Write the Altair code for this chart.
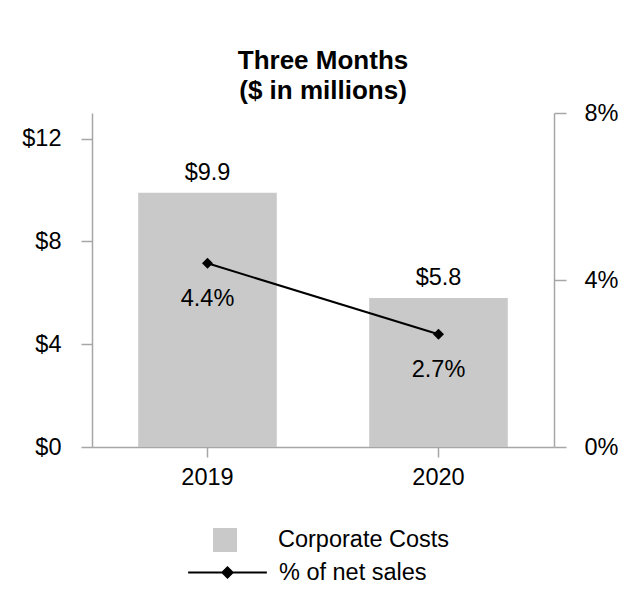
import altair as alt
import pandas as pd

years = ["2019", "2020"]
corporate_costs = [9.9, 5.8]
pct_net_sales = [4.4, 2.7]
cost_ticks = [0, 4, 8, 12]
pct_ticks = [0, 4, 8]
bar_series = ["Corporate Costs", "Corporate Costs"]
line_series = ["% of net sales", "% of net sales"]

df = pd.DataFrame({
    "year": years,
    "cost": corporate_costs,
    "pct": pct_net_sales,
    "bar_series": bar_series,
    "line_series": line_series,
})

FONT = "Liberation Sans"
AXC = "#a6a6a6"
BAR = "#c9c9c9"
FS = 23.5

x = alt.X(
    "year:N", title=None,
    scale=alt.Scale(paddingInner=0.4, paddingOuter=0.2),
    axis=alt.Axis(labelAngle=0, labelFontSize=FS, labelColor="black", labelFont=FONT,
                  domainColor=AXC, tickColor=AXC, tickSize=10, labelPadding=8,
                  domainWidth=1.5, tickWidth=1.5),
)

y_cost = alt.Y(
    "cost:Q", title=None,
    scale=alt.Scale(domain=[0, 13], nice=False, zero=True),
    axis=alt.Axis(orient="left", values=cost_ticks, labelExpr="'$' + datum.value",
                  grid=False, labelFontSize=FS, labelColor="black", labelFont=FONT,
                  domainColor=AXC, tickColor=AXC, tickSize=11, labelPadding=20,
                  domainWidth=1.5, tickWidth=1.5),
)

y_pct = alt.Y(
    "pct:Q", title=None,
    scale=alt.Scale(domain=[0, 8], nice=False, zero=True),
    axis=alt.Axis(orient="right", values=pct_ticks, labelExpr="datum.value + '%'",
                  grid=False, labelFontSize=FS, labelColor="black", labelFont=FONT,
                  domainColor=AXC, tickColor=AXC, tickSize=12, labelPadding=18,
                  domainWidth=1.5, tickWidth=1.5),
)

base = alt.Chart(df).transform_calculate(
    cost_label="'$' + format(datum.cost, '.1f')",
    pct_label="format(datum.pct, '.1f') + '%'",
)

bars = base.mark_bar(color=BAR).encode(
    x=x,
    y=y_cost,
    fill=alt.Fill(
        "bar_series:N",
        scale=alt.Scale(range=[BAR]),
        legend=alt.Legend(orient="none", legendX=121, legendY=415, title=None,
                          symbolType="square", symbolSize=576, symbolStrokeWidth=0,
                          labelFontSize=FS, labelFont=FONT, labelColor="black",
                          labelOffset=41, labelLimit=0),
    ),
)

bar_text = base.mark_text(dy=-20, fontSize=FS, font=FONT, color="black").encode(
    x=x, y=alt.Y("cost:Q"), text="cost_label:N"
)

line = base.mark_line(color="black", strokeWidth=2).encode(
    x=x,
    y=y_pct,
    stroke=alt.Stroke(
        "line_series:N",
        scale=alt.Scale(range=["black"]),
        legend=alt.Legend(orient="none", legendX=95, legendY=419, title=None,
                          symbolType="M-1,0L1,0M-0.13,0L0,-0.13L0.13,0L0,0.13Z",
                          symbolSize=6200, symbolStrokeWidth=2, symbolFillColor="black",
                          labelFontSize=FS, labelFont=FONT, labelColor="black",
                          labelOffset=11, labelLimit=0),
    ),
)

points = base.mark_point(shape="diamond", filled=True, size=120, color="black", opacity=1).encode(
    x=x, y=alt.Y("pct:Q")
)

pct_text = base.mark_text(dy=36, fontSize=FS, font=FONT, color="black").encode(
    x=x, y=alt.Y("pct:Q"), text="pct_label:N"
)

chart = alt.layer(
    alt.layer(bars, bar_text),
    alt.layer(line, points, pct_text),
).resolve_scale(
    y="independent", fill="independent", stroke="independent"
).properties(
    width=462,
    height=334,
    autosize="none",
    padding={"left": 84, "top": 105, "right": 70, "bottom": 150},
    title=alt.Title(["Three Months", "($ in millions)"], fontSize=26, font=FONT,
                    fontWeight="bold", color="black", anchor="middle", offset=-3,
                    lineHeight=30),
).configure_view(stroke=None)

chart.save("out.html", embed_options={"renderer": "svg", "actions": False})
